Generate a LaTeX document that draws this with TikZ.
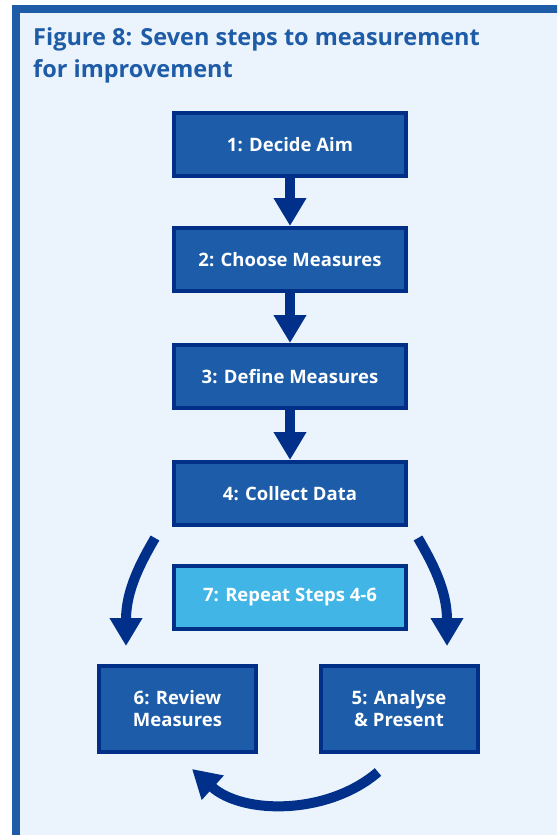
\documentclass[tikz,border=0pt]{standalone}
\usepackage{fontspec}
\setmainfont{Open Sans}
\usetikzlibrary{arrows.meta}
\definecolor{framebl}{HTML}{1F5CA8}
\definecolor{bgbl}{HTML}{EBF4FC}
\definecolor{boxfill}{HTML}{1C5CA8}
\definecolor{boxline}{HTML}{002F87}
\definecolor{arrbl}{HTML}{00308A}
\definecolor{lightbox}{HTML}{41B6E6}
\begin{document}
\begin{tikzpicture}[x=1pt,y=-1pt,
  stepbox/.style={draw=boxline, fill=boxfill, line width=4pt, minimum width=232pt, minimum height=63pt,
    inner sep=0pt, text=white, font=\fontsize{18.5}{22}\selectfont\bfseries, align=center},
  smallbox/.style={stepbox, minimum width=157pt, minimum height=86pt},
  arr/.style={draw=arrbl, line width=10pt, -{Triangle[width=31pt,length=28pt]}},
  titletext/.style={anchor=base west, inner sep=0pt, text=framebl, font=\fontsize{23.5}{28}\selectfont\bfseries}
]
\useasboundingbox (0,0) rectangle (557,835);
\clip (0,0) rectangle (557,835);
\fill[white] (0,0) rectangle (557,835);
\draw[framebl, fill=bgbl, line width=8pt] (16,9) rectangle (620,900);

\node[titletext] (t1) at (33,45) {Figure 8: Seven steps to measurement};
\node[titletext] (t2) at (33,77) {for improvement};

\node[stepbox] (b1) at (290,144.5) {1: Decide Aim};
\node[stepbox] (b2) at (290,259.5) {2: Choose Measures};
\node[stepbox] (b3) at (290,376.5) {3: Define Measures};
\node[stepbox] (b4) at (290,493.5) {4: Collect Data};
\node[stepbox, fill=lightbox] (b7) at (290,597.5) {7: Repeat Steps 4-6};
\node[smallbox] (b6) at (177.5,709) {6: Review\\Measures};
\node[smallbox] (b5) at (399,709) {5: Analyse\\\& Present};

\draw[arr] (b1.south) -- (b2.north);
\draw[arr] (b2.south) -- (b3.north);
\draw[arr] (b3.south) -- (b4.north);

\coordinate (ls) at (155,538);
\coordinate (lt) at (126,646);
\coordinate (rs) at (418,538);
\coordinate (rt) at (447,646);
\coordinate (bs) at (378,772);
\coordinate (bt) at (192,769);
\draw[arr] (ls) .. controls (141,562) and (126,590) .. (lt);
\draw[arr] (rs) .. controls (432,562) and (447,590) .. (rt);
\draw[arr] (bs) .. controls (328,815) and (243,815) .. (bt);
\end{tikzpicture}
\end{document}
